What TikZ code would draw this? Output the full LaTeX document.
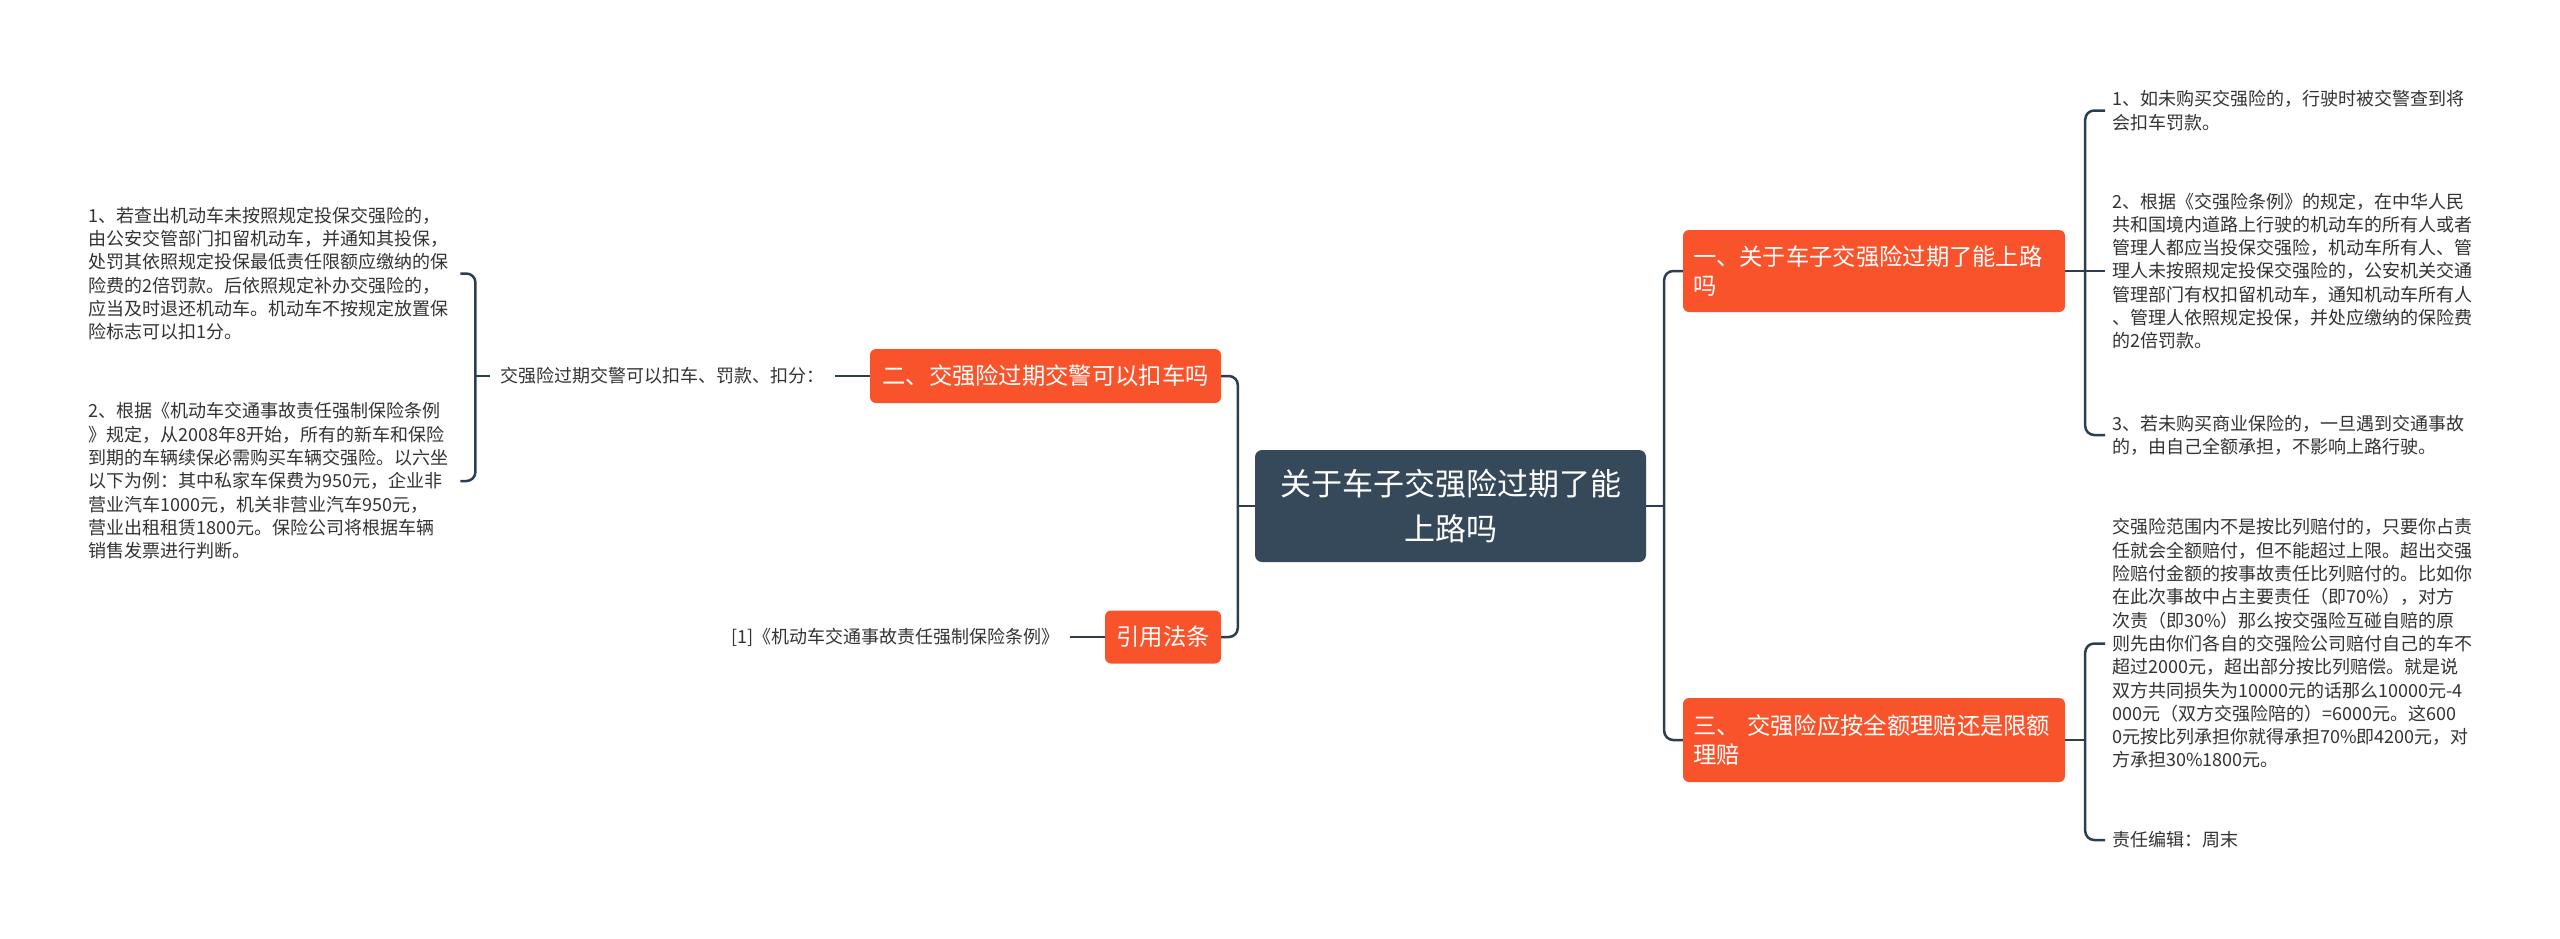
\documentclass[tikz,border=0pt]{standalone}
\usepackage{fontspec}
\setmainfont{Noto Sans CJK SC}
\usepackage{xcolor}
\usepackage{tikz}
\definecolor{rootblue}{HTML}{36495B}
\definecolor{topicred}{HTML}{F9532C}
\definecolor{linkgray}{HTML}{2C3E50}
\definecolor{leaftext}{HTML}{333333}
\usetikzlibrary{positioning, calc}

\begin{document}
\begin{tikzpicture}[
    x=1pt, y=-1pt,
    root/.style={fill=rootblue, text=white, rounded corners=7pt, align=center, minimum width=391pt, minimum height=112pt, font=\fontsize{31}{45}\selectfont},
    topic/.style={fill=topicred, text=white, rounded corners=6pt, minimum height=54pt, inner xsep=10pt, font=\fontsize{23.3}{29}\selectfont},
    leaf/.style={text=leaftext, align=left, inner sep=0pt, font=\fontsize{18}{23.3}\selectfont},
    link/.style={draw=linkgray, line width=2.5pt, rounded corners=9pt}
]
    \fill[white] (0,0) rectangle (2560,938);
    \useasboundingbox (0,0) rectangle (2560,938);

    % Root
    \node[root] (root) at (1450.5,506) {关于车子交强险过期了能\\上路吗};

    % Right topics
    \node[topic, text width=362pt, align=left, minimum height=82pt] (t1) at (1874,271) {一、关于车子交强险过期了能上路\\吗};
    \node[topic, text width=362pt, align=left, minimum height=84pt] (t3) at (1874,740) {三、 交强险应按全额理赔还是限额\\理赔};

    % Left topics
    \node[topic, minimum width=351pt] (t2) at (1045.5,376) {二、交强险过期交警可以扣车吗};
    \node[topic, minimum width=116pt, minimum height=53pt] (t4) at (1163,637) {引用法条};

    % Left leaves
    \node[leaf, left=35pt of t2, inner xsep=10pt] (a0) {交强险过期交警可以扣车、罚款、扣分：};
    \node[leaf, text width=360pt, anchor=west] (a1) at (88,273.5) {
        1、若查出机动车未按照规定投保交强险的，\\
        由公安交管部门扣留机动车，并通知其投保，\\
        处罚其依照规定投保最低责任限额应缴纳的保\\
        险费的2倍罚款。后依照规定补办交强险的，\\
        应当及时退还机动车。机动车不按规定放置保\\
        险标志可以扣1分。
    };
    \node[leaf, text width=360pt, anchor=west] (a2) at (88,481) {
        2、根据《机动车交通事故责任强制保险条例\\
        》规定，从2008年8开始，所有的新车和保险\\
        到期的车辆续保必需购买车辆交强险。以六坐\\
        以下为例：其中私家车保费为950元，企业非\\
        营业汽车1000元，机关非营业汽车950元，\\
        营业出租租赁1800元。保险公司将根据车辆\\
        销售发票进行判断。
    };
    \node[leaf, left=35pt of t4, inner xsep=10pt] (b0) {[1]《机动车交通事故责任强制保险条例》};

    % Right leaves
    \node[leaf, text width=362pt, anchor=west] (c1) at (2112,110.5) {
        1、如未购买交强险的，行驶时被交警查到将\\
        会扣车罚款。
    };
    \node[leaf, text width=362pt, anchor=west] (c2) at (2112,271) {
        2、根据《交强险条例》的规定，在中华人民\\
        共和国境内道路上行驶的机动车的所有人或者\\
        管理人都应当投保交强险，机动车所有人、管\\
        理人未按照规定投保交强险的，公安机关交通\\
        管理部门有权扣留机动车，通知机动车所有人\\
        、管理人依照规定投保，并处应缴纳的保险费\\
        的2倍罚款。
    };
    \node[leaf, text width=362pt, anchor=west] (c3) at (2112,435) {
        3、若未购买商业保险的，一旦遇到交通事故\\
        的，由自己全额承担，不影响上路行驶。
    };
    \node[leaf, text width=362pt, anchor=west] (c4) at (2112,643.5) {
        交强险范围内不是按比列赔付的，只要你占责\\
        任就会全额赔付，但不能超过上限。超出交强\\
        险赔付金额的按事故责任比列赔付的。比如你\\
        在此次事故中占主要责任（即70\%），对方\\
        次责（即30\%）那么按交强险互碰自赔的原\\
        则先由你们各自的交强险公司赔付自己的车不\\
        超过2000元，超出部分按比列赔偿。就是说\\
        双方共同损失为10000元的话那么10000元-4\\
        000元（双方交强险陪的）=6000元。这600\\
        0元按比列承担你就得承担70\%即4200元，对\\
        方承担30\%1800元。
    };
    \node[leaf, anchor=west] (c5) at (2112,840) {责任编辑：周末};

    % Root links
    \draw[link] (root.east) -- ++(18,0) coordinate (rj);
    \draw[link] (rj) |- (t1.west);
    \draw[link] (rj) |- (t3.west);
    \draw[link] (root.west) -- ++(-17,0) coordinate (lj);
    \draw[link] (lj) |- (t2.east);
    \draw[link] (lj) |- (t4.east);

    % Left leaf links
    \draw[link] (t2.west) -- (a0.east);
    \draw[link] (a0.west) -- ++(-15,0) coordinate (aj);
    \draw[link] (aj) |- ([xshift=12pt]a1.east);
    \draw[link] (aj) |- ([xshift=12pt]a2.east);
    \draw[link] (t4.west) -- (b0.east);

    % Right leaf links
    \draw[link] (t1.east) -- ++(20,0) coordinate (cj);
    \draw[link] (cj) |- ([xshift=-7pt]c1.west);
    \draw[link] (cj) -- ([xshift=-7pt]c2.west);
    \draw[link] (cj) |- ([xshift=-7pt]c3.west);
    \draw[link] (t3.east) -- ++(20,0) coordinate (dj);
    \draw[link] (dj) |- ([xshift=-7pt]c4.west);
    \draw[link] (dj) |- ([xshift=-7pt]c5.west);
\end{tikzpicture}
\end{document}
